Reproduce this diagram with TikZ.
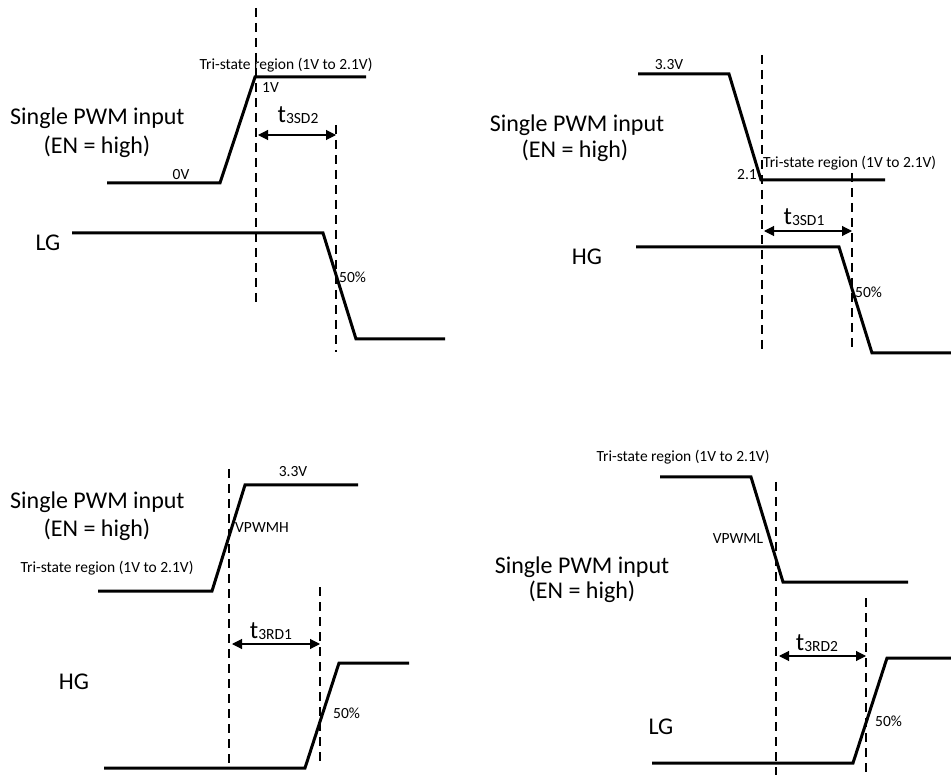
\documentclass[tikz,border=0pt]{standalone}
\usepackage{fontspec}
\setmainfont{Carlito}
\usetikzlibrary{arrows.meta}
\newcommand{\tsub}[1]{t\raisebox{-1pt}{\fontsize{15.5}{16}\selectfont #1}}
\tikzset{
  sig/.style={line width=3pt, line join=miter},
  guide/.style={line width=1.1pt, dash pattern=on 9pt off 6pt},
  dim/.style={line width=1.1pt, {Triangle[length=10pt,width=10pt]}-{Triangle[length=10pt,width=10pt]}},
  big/.style={inner sep=0pt, font=\fontsize{24}{28}\selectfont},
  small/.style={inner sep=0pt, font=\fontsize{15.5}{18}\selectfont},
  tlab/.style={inner sep=0pt, anchor=base, font=\fontsize{25}{28}\selectfont},
}
\begin{document}
\begin{tikzpicture}[x=1pt,y=-1pt]
\useasboundingbox (0,0) rectangle (951,775);
% ---------- Panel 1 ----------
\draw[guide] (256,8) -- (256,305);
\draw[guide] (336,125) -- (336,352);
\draw[sig] (107,183) -- (220,183) -- (255,77) -- (366,77);
\node[small] (p1tri) at (286,65) {Tri-state region (1V to 2.1V)};
\node[small, anchor=west] (p1v1) at (262,88) {1V};
\node[small] (p1v0) at (181,175) {0V};
\node[big, anchor=west] (p1a) at (10,118) {Single PWM input};
\node[big] (p1b) at (97,147) {(EN = high)};
\coordinate (p1l) at (258,135);
\coordinate (p1r) at (336,135);
\draw[dim] (p1l) -- (p1r);
\node[tlab] (p1t) at (298,123) {\tsub{3SD2}};
\node[big] (p1lg) at (48,243) {LG};
\draw[sig] (72,233) -- (323,233) -- (356,339) -- (445,339);
\node[small, anchor=west] (p1p) at (339,277) {50\%};
% ---------- Panel 2 ----------
\draw[guide] (762,55) -- (762,353);
\draw[guide] (852,173) -- (852,352);
\draw[sig] (638,74) -- (729,74) -- (761,180) -- (885,180);
\node[small] (p2v33) at (669,65) {3.3V};
\node[small, anchor=west] (p2tri) at (763,163) {Tri-state region (1V to 2.1V)};
\node[small] (p2v21) at (747,175) {2.1};
\node[big] (p2a) at (577,125) {Single PWM input};
\node[big] (p2b) at (575,151) {(EN = high)};
\coordinate (p2l) at (764,231);
\coordinate (p2r) at (852,231);
\draw[dim] (p2l) -- (p2r);
\node[tlab] (p2t) at (804,225) {\tsub{3SD1}};
\node[big] (p2hg) at (587,257) {HG};
\draw[sig] (636,247) -- (839,247) -- (872,353) -- (960,353);
\node[small, anchor=west] (p2p) at (855,292) {50\%};
% ---------- Panel 3 ----------
\draw[guide] (229,469) -- (229,767);
\draw[guide] (320,587) -- (320,765);
\draw[sig] (98,591) -- (212,591) -- (245,485) -- (358,485);
\node[big, anchor=west] (p3a) at (10,502) {Single PWM input};
\node[big] (p3b) at (97,530) {(EN = high)};
\node[small] (p3tri) at (107,568) {Tri-state region (1V to 2.1V)};
\node[small] (p3v33) at (293,472) {3.3V};
\node[small, anchor=west] (p3vh) at (235,528) {VPWMH};
\coordinate (p3l) at (232,644);
\coordinate (p3r) at (320,644);
\draw[dim] (p3l) -- (p3r);
\node[tlab] (p3t) at (271,638) {\tsub{3RD1}};
\node[big] (p3hg) at (74,682) {HG};
\draw[sig] (104,768) -- (305,768) -- (339,663) -- (409,663);
\node[small, anchor=west] (p3p) at (333,713) {50\%};
% ---------- Panel 4 ----------
\draw[guide] (776,482) -- (776,780);
\draw[guide] (866,598) -- (866,780);
\draw[sig] (660,477) -- (751,477) -- (783,582) -- (908,582);
\node[small] (p4tri) at (683,457) {Tri-state region (1V to 2.1V)};
\node[small] (p4vl) at (738,539) {VPWML};
\node[big] (p4a) at (582,567) {Single PWM input};
\node[big] (p4b) at (582,592) {(EN = high)};
\coordinate (p4l) at (779,656);
\coordinate (p4r) at (866,656);
\draw[dim] (p4l) -- (p4r);
\node[tlab] (p4t) at (817,650) {\tsub{3RD2}};
\node[big] (p4lg) at (661,727) {LG};
\draw[sig] (652,763) -- (853,763) -- (887,658) -- (960,658);
\node[small, anchor=west] (p4p) at (875,721) {50\%};
\end{tikzpicture}
\end{document}
